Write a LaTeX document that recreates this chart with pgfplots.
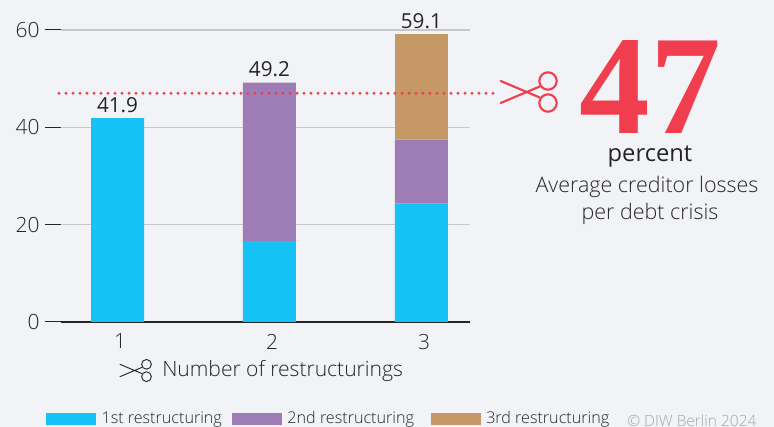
\documentclass[border=0pt]{standalone}
\usepackage{pgfplots}
\pgfplotsset{compat=1.18}
\usepackage{fontspec}
\setmainfont{Open Sans Light}
\newfontfamily\regfont{Open Sans}
\newfontfamily\bigfont{Liberation Serif Bold}
\definecolor{bgc}{HTML}{F2F3F6}
\definecolor{blue1}{HTML}{15C2F5}
\definecolor{purple2}{HTML}{9E7DB7}
\definecolor{tan3}{HTML}{C59865}
\definecolor{redc}{HTML}{F03E4E}
\definecolor{gridc}{HTML}{C8C8C8}
\definecolor{darkc}{HTML}{252529}
\newcommand{\scissors}[2]{%
  \draw[#2,line cap=round] (0,-11) -- (38.6,5.3) (0,11) -- (38.6,-5.3);
  \draw[#2] (47.3,-11) circle (8.7) (47.3,11) circle (8.7);
}
\begin{document}
\begin{tikzpicture}
\fill[bgc] (0,0) rectangle (580.5pt,320.25pt);
\useasboundingbox (0,0) rectangle (580.5pt,320.25pt);
\begin{axis}[
  at={(45.75pt,78.75pt)},anchor=origin,
  scale only axis,width=306.75pt,height=219pt,
  xmin=0.628,xmax=3.32,ymin=0,ymax=60,
  ybar stacked,bar width=39.75pt,
  axis x line=bottom,axis y line=left,
  x axis line style={-,draw=darkc,line width=0.9pt},
  y axis line style={-,draw=none},
  xtick={1,2,3},ytick={0,20,40,60},
  ymajorgrids,grid style={gridc,line width=0.8pt},
  major tick length=12pt,
  xtick style={draw=none},ytick style={darkc,line width=0.75pt},
  tick align=outside,
  /pgf/number format/assume math mode=true,
  tick label style={font=\fontsize{15.7}{17}\selectfont,text=darkc},
  yticklabel style={xshift=-0.5pt},
  xticklabel style={yshift=6.5pt,xshift=2pt},
  clip=false,
  legend style={at={(axis description cs:-0.0367,-0.331)},anchor=west,
    draw=none,fill=none,inner sep=0pt,outer sep=0pt,
    legend columns=-1,font=\fontsize{12.1}{14}\selectfont,text=darkc,
    /tikz/every even column/.append style={column sep=5.5pt},
    /tikz/every odd column/.append style={column sep=2.2pt}},
  legend image code/.code={\fill[#1] (0pt,-4.5pt) rectangle (37.5pt,4.5pt);},
]
\addplot[fill=blue1,draw=none] coordinates {(1,41.9)(2,16.6)(3,24.4)};
\addlegendentry{1st restructuring}
\addplot[fill=purple2,draw=none] coordinates {(1,0)(2,32.6)(3,13.1)};
\addlegendentry{2nd restructuring\mbox{}\hspace{5pt}\mbox{}}
\addplot[fill=tan3,draw=none] coordinates {(1,0)(2,0)(3,21.6)};
\addlegendentry{3rd restructuring}
\end{axis}
\begin{axis}[
  at={(45.75pt,78.75pt)},anchor=origin,
  scale only axis,width=306.75pt,height=219pt,
  xmin=0.628,xmax=3.32,ymin=0,ymax=60,
  axis lines=none,clip=false,
]
\addplot[redc,line width=2.5pt,line cap=round,dash pattern=on 0pt off 5.25pt] coordinates {(0.615,47)(3.497,47)};
\addplot[only marks,mark=none,point meta=y,
  nodes near coords,
  nodes near coords style={font=\regfont\fontsize{15.5}{17}\selectfont,text=darkc,anchor=south,inner sep=1pt,yshift=3pt,
    /pgf/number format/fixed,/pgf/number format/fixed zerofill,/pgf/number format/precision=1,/pgf/number format/assume math mode=true}]
  coordinates {(1,41.9)(2,49.2)(3,59.1)};
\end{axis}
\begin{scope}[x=0.75pt,y=-0.75pt,yshift=320.25pt]
\begin{scope}[shift={(500.7,92)}]
\scissors{1}{redc,line width=1.6pt}
\end{scope}
\begin{scope}[shift={(120,370.5)},scale=0.56]
\scissors{1}{darkc,line width=0.7pt}
\end{scope}
\node[anchor=base,text=redc,font=\bigfont\fontsize{106}{106}\selectfont,inner sep=0] at (650,134) {47};
\node[text=darkc,font=\regfont\fontsize{17.8}{20}\selectfont] at (650,157) {percent};
\node[text=darkc,font=\fontsize{16.1}{18}\selectfont] at (647,187) {Average creditor losses};
\node[text=darkc,font=\fontsize{16.1}{18}\selectfont] at (650,214) {per debt crisis};
\node[text=darkc,font=\fontsize{15.8}{18}\selectfont,anchor=west,inner sep=0] at (162,371) {Number of restructurings};
\node[text=gray!70,font=\fontsize{11.6}{14}\selectfont,anchor=west,inner sep=0] at (627,420.5) {© DIW Berlin 2024};
\end{scope}
\end{tikzpicture}
\end{document}
